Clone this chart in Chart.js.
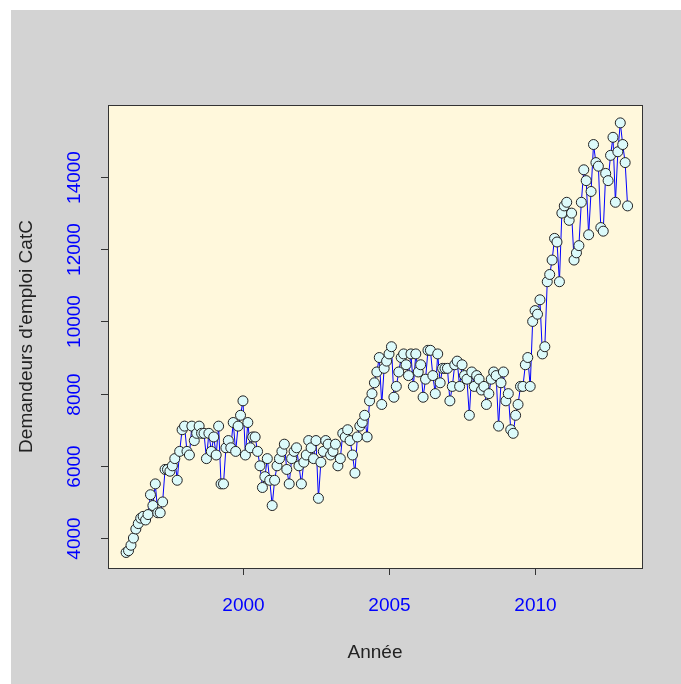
<!DOCTYPE html>
<html lang="fr">
<head>
<meta charset="UTF-8">
<title>Demandeurs d'emploi CatC</title>
<script src="https://cdn.jsdelivr.net/npm/chart.js"></script>
<style>
  body { margin: 0; background: #ffffff; }
  canvas { display: block; }
</style>
</head>
<body>
<canvas id="c" width="681" height="684"></canvas>
<script>
// monthly values, starting January 1996
const startYear = 1996;
const values = [
  3600,3650,3800,4000,4250,4400,4550,4600,4500,4650,5200,4900,
  5500,4700,4700,5000,5900,5900,5850,6000,6200,5600,6400,7000,
  7100,6400,6300,7100,6700,6900,7100,6900,6900,6200,6900,6400,
  6800,6300,7100,5500,5500,6500,6700,6500,7200,6400,7100,7400,
  7800,6300,7200,6500,6800,6800,6400,6000,5400,5700,6200,5600,
  4900,5600,6000,6200,6400,6600,5900,5500,6200,6400,6500,6000,
  5500,6100,6300,6700,6500,6200,6700,5100,6100,6400,6700,6600,
  6300,6400,6600,6000,6200,6900,6800,7000,6700,6300,5800,6800,
  7100,7200,7400,6800,7800,8000,8300,8600,9000,7700,8700,8900,
  9100,9300,7900,8200,8600,9000,9100,8800,8500,9100,8200,9100,
  8600,8800,7900,8400,9200,9200,8500,8000,9100,8300,8700,8700,
  8700,7800,8200,8800,8900,8200,8800,8500,8400,7400,8600,8200,
  8500,8400,8100,8200,7700,8000,8400,8600,8500,7100,8300,8600,
  7800,8000,7000,6900,7400,7700,8200,8200,8800,9000,8200,10000,
  10300,10200,10600,9100,9300,11100,11300,11700,12300,12200,11100,13000,
  13200,13300,12800,13000,11700,11900,12100,13300,14200,13900,12400,13600,
  14900,14400,14300,12600,12500,14100,13900,14600,15100,13300,14700,15500,
  14900,14400,13200
];
const xTicks = [2000, 2005, 2010];
const yTicks = [4000, 6000, 8000, 10000, 12000, 14000];
const xTitle = 'Année';
const yTitle = "Demandeurs d'emploi CatC";

const points = values.map((v, i) => ({ x: startYear + i / 12, y: v }));

const rAxes = {
  id: 'rAxes',
  beforeDraw(chart) {
    const { ctx, chartArea: a } = chart;
    ctx.save();
    ctx.fillStyle = '#ffffff';
    ctx.fillRect(0, 0, chart.width, chart.height);
    ctx.fillStyle = '#d3d3d3';
    ctx.fillRect(11, 10, chart.width - 11, chart.height - 10);
    ctx.fillStyle = '#fff8dc';
    ctx.fillRect(a.left, a.top, a.right - a.left, a.bottom - a.top);
    ctx.restore();
  },
  afterDraw(chart) {
    const { ctx, chartArea: a, scales } = chart;
    ctx.save();
    ctx.strokeStyle = '#333';
    ctx.lineWidth = 1;
    ctx.strokeRect(a.left + 0.5, a.top + 0.5, a.right - a.left, a.bottom - a.top);
    ctx.font = '19px Arial, "Liberation Sans", sans-serif';
    ctx.fillStyle = '#0000ff';
    ctx.textAlign = 'center';
    ctx.textBaseline = 'middle';
    xTicks.forEach(t => {
      const px = Math.round(scales.x.getPixelForValue(t)) + 0.5;
      ctx.beginPath();
      ctx.moveTo(px, a.bottom); ctx.lineTo(px, a.bottom + 7);
      ctx.stroke();
      ctx.fillText(String(t), px, a.bottom + 38);
    });
    yTicks.forEach(t => {
      const py = Math.round(scales.y.getPixelForValue(t)) + 0.5;
      ctx.beginPath();
      ctx.moveTo(a.left, py); ctx.lineTo(a.left - 7, py);
      ctx.stroke();
      ctx.save();
      ctx.translate(a.left - 33, py);
      ctx.rotate(-Math.PI / 2);
      ctx.fillText(String(t), 0, 0);
      ctx.restore();
    });
    ctx.fillStyle = '#222';
    ctx.fillText(xTitle, (a.left + a.right) / 2, a.bottom + 85);
    ctx.save();
    ctx.translate(27, (a.top + a.bottom) / 2);
    ctx.rotate(-Math.PI / 2);
    ctx.fillText(yTitle, 0, 0);
    ctx.restore();
    ctx.restore();
  }
};

new Chart(document.getElementById('c'), {
  type: 'line',
  data: {
    datasets: [{
      data: points,
      borderColor: '#0000ff',
      borderWidth: 1,
      pointBackgroundColor: '#dcfafa',
      pointBorderColor: '#222',
      pointBorderWidth: 1,
      pointRadius: 5,
      tension: 0
    }]
  },
  options: {
    responsive: false,
    animation: false,
    devicePixelRatio: 1,
    layout: { padding: { left: 108, right: 39, top: 105, bottom: 116 } },
    plugins: { legend: { display: false }, tooltip: { enabled: false } },
    scales: {
      x: { type: 'linear', display: false, min: 1995.38, max: 2013.66 },
      y: { type: 'linear', display: false, min: 3170, max: 15995 }
    }
  },
  plugins: [rAxes]
});
</script>
</body>
</html>
